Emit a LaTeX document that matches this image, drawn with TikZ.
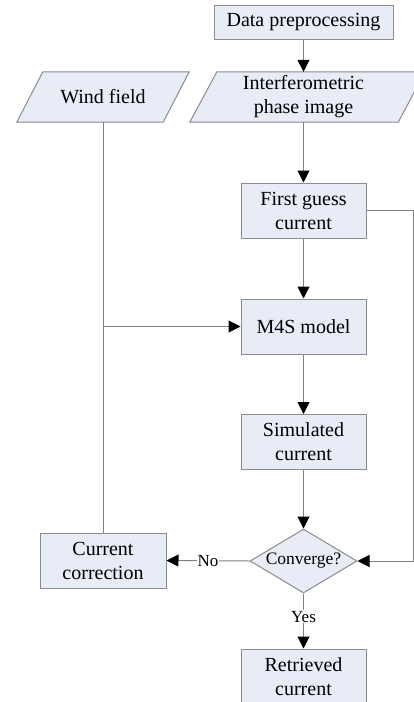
\documentclass[tikz,border=0pt]{standalone}
\usepackage{fontspec}
\setmainfont{Liberation Serif}
\usetikzlibrary{arrows.meta,shapes.geometric,calc}
\definecolor{boxfill}{RGB}{231,236,246}
\definecolor{boxline}{RGB}{140,140,140}
\definecolor{conline}{RGB}{128,128,128}
\tikzset{
  procbox/.style={draw=boxline,fill=boxfill,line width=1pt,minimum width=125pt,minimum height=55pt,align=center,inner sep=0pt,font=\fontsize{20}{24}\selectfont},
  iobox/.style={align=center,inner sep=0pt,font=\fontsize{20}{24}\selectfont},
  decbox/.style={diamond,draw=boxline,fill=boxfill,line width=1pt,aspect=1.67,inner sep=0pt,minimum width=107pt,minimum height=64pt,font=\fontsize{17.5}{20}\selectfont},
  conn/.style={draw=conline,line width=1pt},
  arr/.style={conn,-{Triangle[width=12pt,length=12pt,fill=black,color=black]}},
  lbl/.style={fill=white,inner sep=1pt,font=\fontsize{17}{20}\selectfont}
}
\begin{document}
\begin{tikzpicture}[x=1pt,y=-1pt]
\useasboundingbox (0,0) rectangle (414,702);
\fill[white] (0,0) rectangle (414,702);
% nodes
\node[procbox,minimum width=179pt,minimum height=34pt] (dp) at (303.5,22) {Data preprocessing};
\node[iobox,minimum width=146pt,minimum height=50pt] (wf) at (103,97) {};
\node[iobox,minimum width=208pt,minimum height=50pt] (ip) at (303.5,97) {};
\filldraw[draw=boxline,fill=boxfill,line width=1pt]
  ([xshift=13pt]wf.north west) -- ([xshift=13pt]wf.north east) -- ([xshift=-13pt]wf.south east) -- ([xshift=-13pt]wf.south west) -- cycle;
\filldraw[draw=boxline,fill=boxfill,line width=1pt]
  ([xshift=17.5pt]ip.north west) -- ([xshift=17.5pt]ip.north east) -- ([xshift=-9.5pt]ip.south east) -- ([xshift=-9.5pt]ip.south west) -- cycle;
\node[iobox] at (wf.center) {Wind field};
\node[iobox] at (ip.center) {Interferometric\\phase image};
\node[procbox] (fg) at (303.5,210.5) {First guess\\current};
\node[procbox] (m4s) at (303.5,326.5) {M4S model};
\node[procbox] (sim) at (303.5,442) {Simulated\\current};
\node[decbox] (conv) at (303.5,561) {Converge?};
\node[procbox,minimum width=126pt] (cc) at (103,560.5) {Current\\correction};
\node[procbox] (ret) at (303.5,676.5) {Retrieved\\current};
\coordinate (rt) at (413,210.5);
\coordinate (rb) at (413,561);
% connectors
\draw[arr] (dp.south) -- (ip.north);
\draw[arr] (ip.south) -- (fg.north);
\draw[arr] (fg.south) -- (m4s.north);
\draw[arr] (m4s.south) -- (sim.north);
\draw[arr] (sim.south) -- (conv.north);
\draw[conn] (wf.south) -- (cc.north);
\draw[arr] (wf.south |- m4s.west) -- (m4s.west);
\draw[arr] (fg.east) -- (rt) -- (rb) -- (conv.east);
\draw[arr] (conv.west) -- node[lbl] {No} (cc.east);
\draw[arr] (conv.south) -- node[lbl,pos=0.42] {Yes} (ret.north);
\end{tikzpicture}
\end{document}
